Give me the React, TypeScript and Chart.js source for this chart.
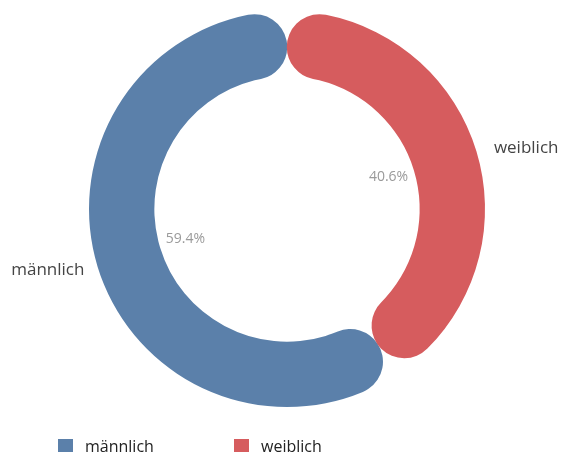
import React, { useEffect, useRef } from "react";
import { Chart, registerables } from "chart.js";

Chart.register(...registerables);

const categories = ["männlich", "weiblich"];
const values = [59.4, 40.6];
const percentLabels = ["59.4%", "40.6%"];
const colors = ["#5b80aa", "#d65c5e"];

const FONT = "'Open Sans', 'Liberation Sans', sans-serif";

const labelPlugin = {
  id: "labelPlugin",
  afterDatasetsDraw(chart: any) {
    const ctx = chart.ctx;
    const meta = chart.getDatasetMeta(0);
    ctx.save();
    meta.data.forEach((arc: any, i: number) => {
      const { x, y, startAngle, endAngle, innerRadius, outerRadius } = arc.getProps(
        ["x", "y", "startAngle", "endAngle", "innerRadius", "outerRadius"],
        true
      );
      const mid = (startAngle + endAngle) / 2;
      // inner percentage
      const rIn = innerRadius * 0.8;
      ctx.fillStyle = "#9a9a9a";
      ctx.font = `14px ${FONT}`;
      ctx.textAlign = "center";
      ctx.textBaseline = "middle";
      ctx.fillText(percentLabels[i], x + Math.cos(mid) * rIn, y + Math.sin(mid) * rIn - 1);
      // outer label
      const rx = outerRadius + 52;
      const ry = outerRadius + 12;
      ctx.fillStyle = "#444";
      ctx.font = `17px ${FONT}`;
      ctx.fillText(categories[i], x + Math.cos(mid) * rx, y + Math.sin(mid) * ry);
    });
    // legend
    const legendX = [58, 234];
    const textX = [85, 261];
    categories.forEach((c, i) => {
      ctx.fillStyle = colors[i];
      ctx.fillRect(legendX[i], 439, 15, 13);
      ctx.fillStyle = "#222";
      ctx.font = `16px ${FONT}`;
      ctx.textAlign = "left";
      ctx.textBaseline = "alphabetic";
      ctx.fillText(c, textX[i], 452);
    });
    ctx.restore();
  },
};

export default function App() {
  const ref = useRef<HTMLCanvasElement>(null);
  useEffect(() => {
    if (!ref.current) return;
    const total = values.reduce((a, b) => a + b, 0);
    const rotation = (values[1] / total) * 360;
    const chart = new Chart(ref.current, {
      type: "doughnut",
      data: {
        labels: categories,
        datasets: [
          {
            data: values,
            backgroundColor: colors,
            borderWidth: 0,
            borderRadius: 40,
            hoverOffset: 0,
          },
        ],
      },
      options: {
        animation: false,
        responsive: true,
        maintainAspectRatio: false,
        rotation: rotation,
        cutout: "67%",
        layout: { padding: { left: 89, right: 76, top: 11, bottom: 48 } },
        plugins: {
          legend: { display: false },
          tooltip: { enabled: false },
        },
      },
      plugins: [labelPlugin],
    });
    return () => chart.destroy();
  }, []);
  return (
    <div style={{ position: "fixed", left: 0, top: 0, width: 561, height: 455, background: "#fff" }}>
      <canvas ref={ref} />
    </div>
  );
}
